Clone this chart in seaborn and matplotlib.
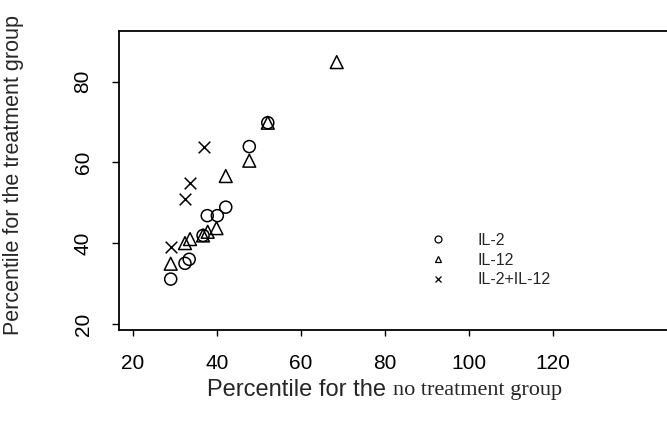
import numpy as np
import pandas as pd
import matplotlib
matplotlib.use("Agg")
import matplotlib.pyplot as plt
import seaborn as sns
from matplotlib.lines import Line2D

# values
il2_x = [29.0, 32.4, 33.4, 36.7, 37.7, 40.1, 42.1, 47.7, 52.1]
il2_y = [31.1, 35.0, 36.0, 41.9, 46.8, 46.8, 48.9, 63.9, 69.8]
il12_x = [29.0, 32.4, 33.6, 36.7, 37.8, 39.9, 42.1, 47.7, 52.1, 68.5]
il12_y = [34.9, 40.0, 41.0, 41.9, 42.8, 43.7, 56.6, 60.4, 69.8, 84.8]
combo_x = [29.0, 32.4, 33.6, 36.9]
combo_y = [39.0, 50.9, 54.8, 63.7]
groups = ["IL-2", "IL-12", "IL-2+IL-12"]
x_ticks = [20, 40, 60, 80, 100, 120]
y_ticks = [20, 40, 60, 80]

df = pd.concat([
    pd.DataFrame({"x": il2_x, "y": il2_y, "group": groups[0]}),
    pd.DataFrame({"x": il12_x, "y": il12_y, "group": groups[1]}),
    pd.DataFrame({"x": combo_x, "y": combo_y, "group": groups[2]}),
])

sns.set_style("ticks")
plt.rcParams["font.family"] = ["Liberation Sans", "DejaVu Sans"]

fig = plt.figure(figsize=(6.67, 4.28), dpi=100)
W, H = 667, 428
ax = fig.add_axes([119 / W, (H - 330) / H, (670 - 119) / W, (330 - 31) / H])

markers = {"IL-2": "o", "IL-12": "^", "IL-2+IL-12": "x"}
for g in groups:
    sub = df[df["group"] == g]
    if markers[g] == "x":
        sns.scatterplot(data=sub, x="x", y="y", marker="x", color="black",
                        s=70, linewidth=1.1, ax=ax, legend=False)
    else:
        sns.scatterplot(data=sub, x="x", y="y", marker=markers[g],
                        facecolor="none", edgecolor="black", s=75 if g == "IL-2" else 85,
                        linewidth=1.1, ax=ax, legend=False)

ax.set_xlim(16.7, 147.8)
ax.set_ylim(18.5, 92.5)
ax.set_xticks(x_ticks)
ax.set_yticks(y_ticks)
ax.tick_params(axis="x", length=4, width=1, pad=13, labelsize=15, colors="black")
ax.tick_params(axis="y", length=5, width=1, pad=14, labelsize=15, colors="black")
for lab in ax.get_yticklabels():
    lab.set_rotation(90)
    lab.set_va("center")
for sp in ax.spines.values():
    sp.set_color("black")
    sp.set_linewidth(1.3)
ax.spines["right"].set_visible(False)
ax.set_xlabel("")
ax.set_ylabel("Percentile for the treatment group", fontsize=15.5)
ax.yaxis.set_label_coords(-(119 - 24) / 551, (330 - 175) / 299)

# x label mixes a sans and a serif part in the original
fig.text(386 / W, (H - 390) / H, "Percentile for the", ha="right", va="center",
         fontsize=17, family="Liberation Sans")
fig.text(393 / W, (H - 390) / H, "no treatment group", ha="left", va="center",
         fontsize=16, family="Liberation Serif")

handles = [
    Line2D([], [], marker="o", ls="none", mfc="none", mec="black", ms=5, mew=0.9),
    Line2D([], [], marker="^", ls="none", mfc="none", mec="black", ms=5, mew=0.9),
    Line2D([], [], marker="x", ls="none", color="black", ms=5, mew=0.9),
]
ax.legend(handles, groups, frameon=False, fontsize=11.5, loc="upper left",
          bbox_to_anchor=(0.552, 0.352), borderpad=0, handlelength=0.9,
          handletextpad=2.0, labelspacing=0.3)

fig.savefig("out.png", dpi=100)
